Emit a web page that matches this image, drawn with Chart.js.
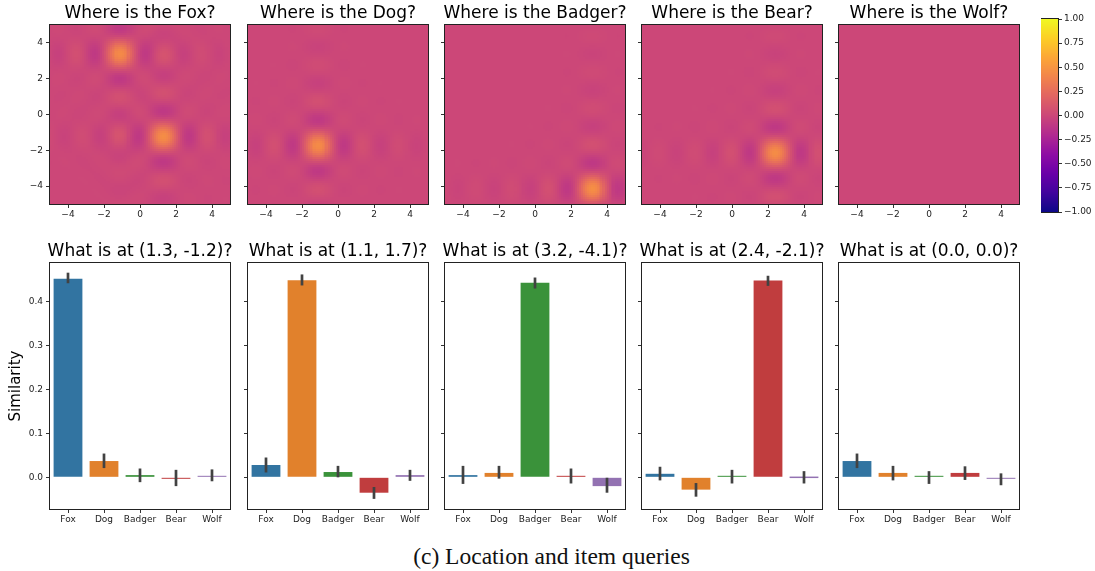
<!DOCTYPE html>
<html>
<head>
<meta charset="utf-8">
<script src="https://cdn.jsdelivr.net/npm/chart.js@4.4.1/dist/chart.umd.min.js"></script>
<style>
  body { margin: 0; background: #fff; width: 1095px; height: 571px; overflow: hidden; position: relative; }
  canvas { position: absolute; }
  #caption { position: absolute; left: 0; width: 1103px; top: 545px; text-align: center;
             font: 23.5px 'Liberation Serif', serif; line-height: 23.5px; color: #111; }
</style>
</head>
<body>
<div id="caption">(c) Location and item queries</div>
<script>
// ---- data ----
const animals = ['Fox', 'Dog', 'Badger', 'Bear', 'Wolf'];
const queryPoints = ['(1.3, -1.2)', '(1.1, 1.7)', '(3.2, -4.1)', '(2.4, -2.1)', '(0.0, 0.0)'];

// mean similarity for each query (one value per animal)
const simQ1 = [0.451, 0.037, 0.005, -0.002, 0.003];
const simQ2 = [0.028, 0.448, 0.012, -0.035, 0.005];
const simQ3 = [0.005, 0.010, 0.442, 0.003, -0.020];
const simQ4 = [0.008, -0.028, 0.001, 0.447, 0.000];
const simQ5 = [0.037, 0.010, 0.001, 0.010, -0.003];

// confidence interval ends
const loQ1 = [0.441, 0.021, -0.011, -0.020, -0.009];
const hiQ1 = [0.465, 0.054, 0.020, 0.017, 0.018];
const loQ2 = [0.011, 0.436, 0.000, -0.049, -0.008];
const hiQ2 = [0.045, 0.461, 0.026, -0.022, 0.017];
const loQ3 = [-0.015, -0.003, 0.429, -0.014, -0.035];
const hiQ3 = [0.026, 0.026, 0.454, 0.020, -0.001];
const loQ4 = [-0.007, -0.044, -0.014, 0.435, -0.014];
const hiQ4 = [0.024, -0.013, 0.017, 0.458, 0.014];
const loQ5 = [0.021, -0.007, -0.015, -0.006, -0.018];
const hiQ5 = [0.054, 0.026, 0.014, 0.025, 0.009];

// heatmap peaks per animal: [x, y, strength]
const foxPeaks = [[1.3, -1.2, 0.45], [-1.1, 3.4, 0.43]];
const dogPeaks = [[-1.1, -1.7, 0.44]];
const badgerPeaks = [[3.2, -4.1, 0.46]];
const bearPeaks = [[2.4, -2.1, 0.45]];
const wolfPeaks = [];

const mapTicks = [-4, -2, 0, 2, 4];
const simTicks = [0, 0.1, 0.2, 0.3, 0.4];
const cbTicks = [-1, -0.75, -0.5, -0.25, 0, 0.25, 0.5, 0.75, 1];

// ---- styling ----
const barColors = ['#3274A1', '#E1812C', '#3A923A', '#C03D3E', '#9372B2'];
const plasmaStops = ['#0d0887', '#41049d', '#6a00a8', '#8f0da4', '#b12a90', '#cc4778',
                     '#e16462', '#f2844b', '#fca636', '#fcce25', '#f0f921'];
const areaLefts = [50, 248, 445, 642, 839];
const AX = 50;

Chart.defaults.font.family = "'DejaVu Sans', sans-serif";
Chart.defaults.color = '#222';

function hexRgb(h) { return [1, 3, 5].map(i => parseInt(h.substr(i, 2), 16)); }
const plasmaRgb = plasmaStops.map(hexRgb);
function plasma(t) {
  t = Math.max(0, Math.min(1, t)) * (plasmaRgb.length - 1);
  const i = Math.min(Math.floor(t), plasmaRgb.length - 2), f = t - i;
  const a = plasmaRgb[i], b = plasmaRgb[i + 1];
  return 'rgb(' + a.map((c, k) => Math.round(c + (b[k] - c) * f)).join(',') + ')';
}
const minus = v => (v < 0 ? '\u2212' : '') + Math.abs(v);

// grid cells for a heatmap, shaded from the peaks
const GRID_N = 90, CELL = 10 / GRID_N;
function sinc(t) { return Math.abs(t) < 1e-9 ? 1 : Math.sin(Math.PI * t) / (Math.PI * t); }
function buildCells(peaks) {
  const cells = [];
  for (let i = 0; i < GRID_N; i++) {
    for (let j = 0; j < GRID_N; j++) {
      const x = -5 + (i + 0.5) * CELL, y = -5 + (j + 0.5) * CELL;
      let v = 0;
      peaks.forEach(p => { v += p[2] * sinc(x - p[0]) * sinc(y - p[1]); });
      cells.push({x: x, y: y, v: v});
    }
  }
  return cells;
}

function makeCanvas(left, top, w, h) {
  const cv = document.createElement('canvas');
  cv.width = w; cv.height = h;
  cv.style.left = left + 'px'; cv.style.top = top + 'px';
  document.body.appendChild(cv);
  return cv;
}

const framePlugin = {
  id: 'frame',
  afterDraw(chart) {
    const {ctx, chartArea: a} = chart;
    ctx.save();
    ctx.strokeStyle = '#222';
    ctx.lineWidth = 1;
    ctx.strokeRect(a.left - 0.5, a.top - 0.5, a.right - a.left + 1, a.bottom - a.top + 1);
    ctx.restore();
  }
};

const heatPlugin = {
  id: 'heatCells',
  beforeDatasetsDraw(chart) {
    const {ctx, chartArea: a, scales: {x, y}} = chart;
    const h = CELL / 2;
    ctx.save();
    ctx.beginPath(); ctx.rect(a.left, a.top, a.right - a.left, a.bottom - a.top); ctx.clip();
    chart.data.datasets[0].data.forEach(p => {
      const x0 = Math.floor(x.getPixelForValue(p.x - h)), x1 = Math.ceil(x.getPixelForValue(p.x + h));
      const y0 = Math.floor(y.getPixelForValue(p.y + h)), y1 = Math.ceil(y.getPixelForValue(p.y - h));
      ctx.fillStyle = plasma((p.v + 1) / 2);
      ctx.fillRect(x0, y0, x1 - x0, y1 - y0);
    });
    ctx.restore();
  }
};

const errorBarPlugin = {
  id: 'errorBars',
  afterDatasetsDraw(chart) {
    const {ctx, scales: {y}} = chart;
    const ds = chart.data.datasets[0];
    const meta = chart.getDatasetMeta(0);
    ctx.save();
    ctx.strokeStyle = '#424242';
    ctx.lineWidth = 2.7;
    meta.data.forEach((bar, i) => {
      ctx.beginPath();
      ctx.moveTo(bar.x, y.getPixelForValue(ds.errLo[i]));
      ctx.lineTo(bar.x, y.getPixelForValue(ds.errHi[i]));
      ctx.stroke();
    });
    ctx.restore();
  }
};

const colorbarPlugin = {
  id: 'colorbar',
  beforeDatasetsDraw(chart) {
    const {ctx, chartArea: a, scales: {y}} = chart;
    ctx.save();
    for (let py = a.top; py < a.bottom; py++) {
      const v = y.getValueForPixel(py + 0.5);
      ctx.fillStyle = plasma((v + 1) / 2);
      ctx.fillRect(a.left, py, a.right - a.left, 1);
    }
    ctx.restore();
  }
};

function titleOpts(text) {
  return { display: true, text: text, color: '#000', font: {size: 17, weight: 'normal'},
           padding: {top: 3, bottom: 1.6} };
}
function dummyRight() {
  return { position: 'right', display: true, grid: {display: false}, border: {display: false},
           ticks: {display: false}, afterFit: s => { s.width = AX; } };
}

// ---- top row: where is each animal ----
const heatPeaks = [foxPeaks, dogPeaks, badgerPeaks, bearPeaks, wolfPeaks];
heatPeaks.forEach((peaks, i) => {
  const cv = makeCanvas(areaLefts[i] - AX, 0, 180 + 2 * AX, 25 + 179 + 22);
  new Chart(cv, {
    type: 'scatter',
    data: { datasets: [{ data: buildCells(peaks), pointRadius: 0 }] },
    options: {
      responsive: false, animation: false, events: [],
      layout: { padding: 0 },
      plugins: { legend: {display: false}, tooltip: {enabled: false},
                 title: titleOpts('Where is the ' + animals[i] + '?') },
      scales: {
        x: { type: 'linear', min: -5, max: 5,
             afterBuildTicks: s => { s.ticks = mapTicks.map(v => ({value: v})); },
             grid: {drawOnChartArea: false, tickLength: 4, color: '#333'}, border: {display: false},
             ticks: {font: {size: 9}, padding: 1, maxRotation: 0, autoSkip: false, callback: minus},
             afterFit: s => { s.height = 22; } },
        y: { type: 'linear', min: -5, max: 5, position: 'left',
             afterBuildTicks: s => { s.ticks = mapTicks.map(v => ({value: v})); },
             grid: {drawOnChartArea: false, tickLength: 4, color: '#333'}, border: {display: false},
             ticks: {font: {size: 9}, padding: 3, autoSkip: false,
                     callback: v => (i === 0 ? minus(v) : '')},
             afterFit: s => { s.width = AX; } },
        yR: dummyRight()
      }
    },
    plugins: [heatPlugin, framePlugin]
  });
});

// ---- bottom row: what is at each location ----
const sims = [simQ1, simQ2, simQ3, simQ4, simQ5];
const los = [loQ1, loQ2, loQ3, loQ4, loQ5];
const his = [hiQ1, hiQ2, hiQ3, hiQ4, hiQ5];
sims.forEach((vals, i) => {
  const cv = makeCanvas(areaLefts[i] - AX, 263 - 25, 180 + 2 * AX, 25 + 246 + 22);
  new Chart(cv, {
    type: 'bar',
    data: {
      labels: animals,
      datasets: [{ data: vals, backgroundColor: barColors, borderWidth: 0, minBarLength: 1.5,
                   barPercentage: 0.8, categoryPercentage: 1, errLo: los[i], errHi: his[i] }]
    },
    options: {
      responsive: false, animation: false, events: [],
      layout: { padding: 0 },
      plugins: { legend: {display: false}, tooltip: {enabled: false},
                 title: titleOpts('What is at ' + queryPoints[i] + '?') },
      scales: {
        x: { grid: {drawOnChartArea: false, tickLength: 4, color: '#333', offset: false},
             border: {display: false},
             ticks: {font: {size: 9}, padding: 1, maxRotation: 0, autoSkip: false},
             afterFit: s => { s.height = 22; } },
        y: { min: -0.072, max: 0.487, position: 'left',
             afterBuildTicks: s => { s.ticks = simTicks.map(v => ({value: v})); },
             grid: {drawOnChartArea: false, tickLength: 4, color: '#333'}, border: {display: false},
             ticks: {font: {size: 9}, padding: 3, autoSkip: false,
                     callback: v => (i === 0 ? v.toFixed(1) : '')},
             title: { display: i === 0, text: 'Similarity', color: '#000', font: {size: 15},
                      padding: {top: 7.5, bottom: 0} },
             afterFit: s => { s.width = AX; } },
        yR: dummyRight()
      }
    },
    plugins: [errorBarPlugin, framePlugin]
  });
});

// ---- colorbar ----
const cbCanvas = makeCanvas(1041, 10, 17 + 54, 9 + 193 + 9);
new Chart(cbCanvas, {
  type: 'scatter',
  data: { datasets: [{ data: cbTicks.map(v => ({x: 0.5, y: v})), pointRadius: 0 }] },
  options: {
    responsive: false, animation: false, events: [],
    layout: { padding: {top: 9, bottom: 9, left: 0, right: 0} },
    plugins: { legend: {display: false}, tooltip: {enabled: false} },
    scales: {
      x: { display: false, min: 0, max: 1 },
      y: { type: 'linear', min: -1, max: 1, position: 'right',
           afterBuildTicks: s => { s.ticks = cbTicks.map(v => ({value: v})); },
           grid: {drawOnChartArea: false, tickLength: 4, color: '#333'}, border: {display: false},
           ticks: {font: {size: 9}, padding: 2, autoSkip: false,
                   callback: v => (v < 0 ? '\u2212' : '') + Math.abs(v).toFixed(2)},
           afterFit: s => { s.width = 54; } }
    }
  },
  plugins: [colorbarPlugin, framePlugin]
});
</script>
</body>
</html>
